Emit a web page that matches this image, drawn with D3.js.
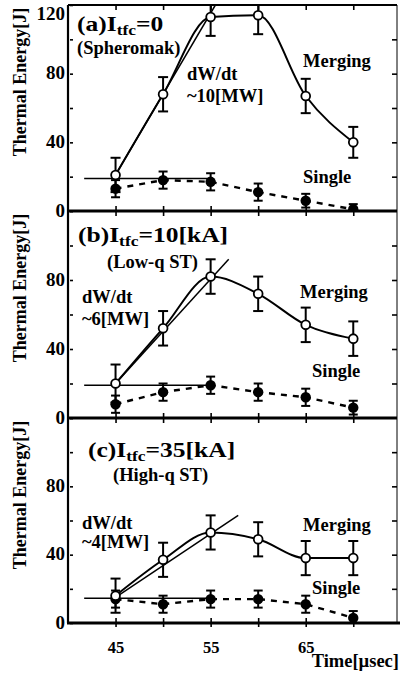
<!DOCTYPE html>
<html>
<head>
<meta charset="utf-8">
<script src="https://cdn.jsdelivr.net/npm/d3@7"></script>
<style>
  body { margin: 0; background: #fff; }
  svg { display: block; }
  text { font-family: "Liberation Serif", "Times New Roman", serif; font-weight: bold; fill: #000; }
</style>
</head>
<body>
<svg id="chart" width="400" height="678"></svg>
<script>
// time axis (usec)
const times = [45, 50, 55, 60, 65, 70];

// (a) spheromak, Itfc = 0
const mergingA = [21, 68, 113, 114, 67, 40];
const mergingErrA = [10, 10, 11, 11, 10, 9];
const singleA = [13, 18, 17, 11, 6, 1];
const singleErrA = [5, 5, 5, 5, 4, 3];

// (b) low-q ST, Itfc = 10 kA
const mergingB = [20, 52, 82, 72, 54, 46];
const mergingErrB = [11, 10, 10, 10, 10, 10];
const singleB = [8, 15, 19, 15, 12, 6];
const singleErrB = [5, 5, 5, 5, 5, 4];

// (c) high-q ST, Itfc = 35 kA
const mergingC = [16, 37, 53, 49, 38, 38];
const mergingErrC = [10, 10, 10, 10, 10, 10];
const singleC = [14, 11, 14, 14, 11, 3];
const singleErrC = [5, 5, 5, 5, 5, 4];

// heating-rate fit lines [t0, W0, t1, W1] and the single-shot baseline level
const fitA = [45, 21, 55.5, 120];
const fitB = [45, 20, 56.9, 92];
const fitC = [45, 15, 57.9, 63];
const baseA = 19, baseB = 19, baseC = 14.5;
const baseRange = [41.7, 55];

const yTicks = [0, 20, 40, 60, 80, 100, 120];
const xTicks = [45, 50, 55, 60, 65, 70];
const xLabels = [45, 55, 65];

const panels = [
    {key: "a", top: 5, bottom: 211, merging: mergingA, mErr: mergingErrA, single: singleA, sErr: singleErrA,
     fit: fitA, base: baseA, labels: [0, 40, 80, 120],
     head: ["(a)I", "tfc", "=0"], headPos: [77, 31], sub: "(Spheromak)", subPos: [77, 54],
     rate: ["dW/dt", "~10[MW]"], ratePos: [187, 80, 102], mPos: [303, 67], sPos: [303, 183]},
    {key: "b", top: 211, bottom: 418, merging: mergingB, mErr: mergingErrB, single: singleB, sErr: singleErrB,
     fit: fitB, base: baseB, labels: [0, 40, 80],
     head: ["(b)I", "tfc", "=10[kA]"], headPos: [78, 242], sub: "(Low-q ST)", subPos: [107, 268],
     rate: ["dW/dt", "~6[MW]"], ratePos: [82, 303, 325], mPos: [300, 298], sPos: [312, 377]},
    {key: "c", top: 418, bottom: 623, merging: mergingC, mErr: mergingErrC, single: singleC, sErr: singleErrC,
     fit: fitC, base: baseC, labels: [0, 40, 80],
     head: ["(c)I", "tfc", "=35[kA]"], headPos: [88, 457], sub: "(High-q ST)", subPos: [113, 481],
     rate: ["dW/dt", "~4[MW]"], ratePos: [82, 529, 548], mPos: [303, 531], sPos: [312, 594]}
];

const svg = d3.select("#chart");
const left = 68, right = 397;
const x = d3.scaleLinear().domain([40, 74.6]).range([left, right]);

svg.append("rect").attr("width", 400).attr("height", 678).attr("fill", "#fff");

const defs = svg.append("defs");

panels.forEach((p, pi) => {
    const y = d3.scaleLinear().domain([0, 120]).range([p.bottom, p.top]);
    const g = svg.append("g").attr("class", "panel-" + p.key);

    defs.append("clipPath").attr("id", "clip-" + p.key)
        .append("rect")
        .attr("x", left).attr("y", p.top)
        .attr("width", right - left).attr("height", p.bottom - p.top);

    // frame
    g.append("line").attr("x1", left).attr("x2", left).attr("y1", p.top).attr("y2", p.bottom)
        .attr("stroke", "#000").attr("stroke-width", 2.2);
    g.append("line").attr("x1", right).attr("x2", right).attr("y1", p.top).attr("y2", p.bottom)
        .attr("stroke", "#000").attr("stroke-width", 1);
    if (pi === 0) {
        g.append("line").attr("x1", left).attr("x2", right).attr("y1", p.top).attr("y2", p.top)
            .attr("stroke", "#000").attr("stroke-width", 1.8);
    }
    g.append("line").attr("x1", left - 1).attr("x2", pi === 2 ? 400 : right).attr("y1", p.bottom).attr("y2", p.bottom)
        .attr("stroke", "#000").attr("stroke-width", 3.2);

    // y axis (left, labelled) and right ticks
    const yAxis = g.append("g").attr("transform", `translate(${left},0)`)
        .call(d3.axisLeft(y).tickValues(yTicks).tickSize(-5).tickPadding(3)
            .tickFormat(d => p.labels.includes(d) ? d : ""));
    yAxis.select(".domain").remove();
    yAxis.selectAll(".tick line").attr("x1", 2).attr("stroke-width", 1.6);
    yAxis.selectAll(".tick text")
        .style("font-family", "'Liberation Serif', 'Times New Roman', serif")
        .style("font-weight", "bold").style("font-size", "19px")
        .attr("dy", "0.28em");
    yAxis.selectAll(".tick").filter(d => d === 120).select("text").attr("dy", "0.78em");

    const yRight = g.append("g").attr("transform", `translate(${right},0)`)
        .call(d3.axisRight(y).tickValues(yTicks.filter(d => d > 0 && d < 120)).tickSize(-5).tickFormat(""));
    yRight.select(".domain").remove();
    yRight.selectAll(".tick line").attr("stroke-width", 1.6);

    // x ticks on top (pointing down) and bottom (pointing up)
    const xTop = g.append("g").attr("transform", `translate(0,${p.top})`)
        .call(d3.axisTop(x).tickValues(xTicks).tickSize(-5).tickFormat(""));
    xTop.select(".domain").remove();
    xTop.selectAll(".tick line").attr("stroke-width", 1.6);

    const xBottom = g.append("g").attr("transform", `translate(0,${p.bottom})`)
        .call(d3.axisBottom(x).tickValues(xTicks).tickSize(pi === 2 ? 4 : 0).tickPadding(14)
            .tickFormat(d => pi === 2 && xLabels.includes(d) ? d : ""));
    xBottom.select(".domain").remove();
    xBottom.selectAll(".tick line").attr("y1", -5).attr("stroke-width", 1.6);
    xBottom.selectAll(".tick text")
        .style("font-family", "'Liberation Serif', 'Times New Roman', serif")
        .style("font-weight", "bold").style("font-size", "16.5px")
        .attr("dy", "0.71em");

    // y title
    g.append("text")
        .attr("transform", `translate(26,${p.top + 77}) rotate(-90)`)
        .attr("text-anchor", "middle")
        .style("font-size", "18px")
        .text("Thermal Energy[J]");

    const plot = g.append("g").attr("clip-path", `url(#clip-${p.key})`);

    // baseline of single shot and heating-rate fit
    plot.append("line")
        .attr("x1", x(baseRange[0])).attr("x2", x(baseRange[1]))
        .attr("y1", y(p.base)).attr("y2", y(p.base))
        .attr("stroke", "#000").attr("stroke-width", 1.5);
    plot.append("line")
        .attr("x1", x(p.fit[0])).attr("y1", y(p.fit[1]))
        .attr("x2", x(p.fit[2])).attr("y2", y(p.fit[3]))
        .attr("stroke", "#000").attr("stroke-width", 1.5);

    const singleData = times.map((t, i) => ({t, v: p.single[i], e: p.sErr[i]}));
    const mergingData = times.map((t, i) => ({t, v: p.merging[i], e: p.mErr[i]}));

    // single: dashed line
    plot.append("path")
        .datum(singleData)
        .attr("fill", "none")
        .attr("stroke", "#000")
        .attr("stroke-width", 2.4)
        .attr("stroke-dasharray", "6,6")
        .attr("d", d3.line().x(d => x(d.t)).y(d => y(d.v)));

    // merging: smooth solid curve
    plot.append("path")
        .datum(mergingData)
        .attr("fill", "none")
        .attr("stroke", "#000")
        .attr("stroke-width", 2)
        .attr("d", d3.line().curve(d3.curveMonotoneX).x(d => x(d.t)).y(d => y(d.v)));

    // error bars
    function errorBars(data, cap) {
        const eb = plot.append("g").selectAll("g").data(data).enter().append("g");
        eb.append("line")
            .attr("x1", d => x(d.t)).attr("x2", d => x(d.t))
            .attr("y1", d => y(d.v - d.e)).attr("y2", d => y(d.v + d.e))
            .attr("stroke", "#000").attr("stroke-width", 2);
        [-1, 1].forEach(s => {
            eb.append("line")
                .attr("x1", d => x(d.t) - cap).attr("x2", d => x(d.t) + cap)
                .attr("y1", d => y(d.v + s * d.e)).attr("y2", d => y(d.v + s * d.e))
                .attr("stroke", "#000").attr("stroke-width", 2);
        });
    }
    errorBars(singleData, 4.5);
    errorBars(mergingData, 5);

    plot.append("g").selectAll("circle").data(singleData).enter().append("circle")
        .attr("cx", d => x(d.t)).attr("cy", d => y(d.v)).attr("r", 5.2)
        .attr("fill", "#000");
    plot.append("g").selectAll("circle").data(mergingData).enter().append("circle")
        .attr("cx", d => x(d.t)).attr("cy", d => y(d.v)).attr("r", 4.4)
        .attr("fill", "#fff").attr("stroke", "#000").attr("stroke-width", 1.8);

    // labels
    const head = g.append("g")
        .attr("transform", `translate(${p.headPos[0]},${p.headPos[1]}) scale(1.16,1)`)
        .append("text").style("font-size", "22px");
    head.append("tspan").text(p.head[0]);
    head.append("tspan").attr("dy", 3.5).style("font-size", "15px").text(p.head[1]);
    head.append("tspan").attr("dy", -3.5).text(p.head[2]);

    g.append("text").attr("x", p.subPos[0]).attr("y", p.subPos[1])
        .style("font-size", "18.5px").text(p.sub);
    g.append("text").attr("x", p.ratePos[0]).attr("y", p.ratePos[1])
        .style("font-size", "18.5px").text(p.rate[0]);
    g.append("text").attr("x", p.ratePos[0]).attr("y", p.ratePos[2])
        .style("font-size", "18.5px").text(p.rate[1]);
    g.append("text").attr("x", p.mPos[0]).attr("y", p.mPos[1])
        .style("font-size", "18.5px").text("Merging");
    g.append("text").attr("x", p.sPos[0]).attr("y", p.sPos[1])
        .style("font-size", "18.5px").text("Single");
});

svg.append("text")
    .attr("x", 399).attr("y", 667)
    .attr("text-anchor", "end")
    .style("font-size", "18.5px")
    .text("Time[µsec]");
</script>
</body>
</html>
